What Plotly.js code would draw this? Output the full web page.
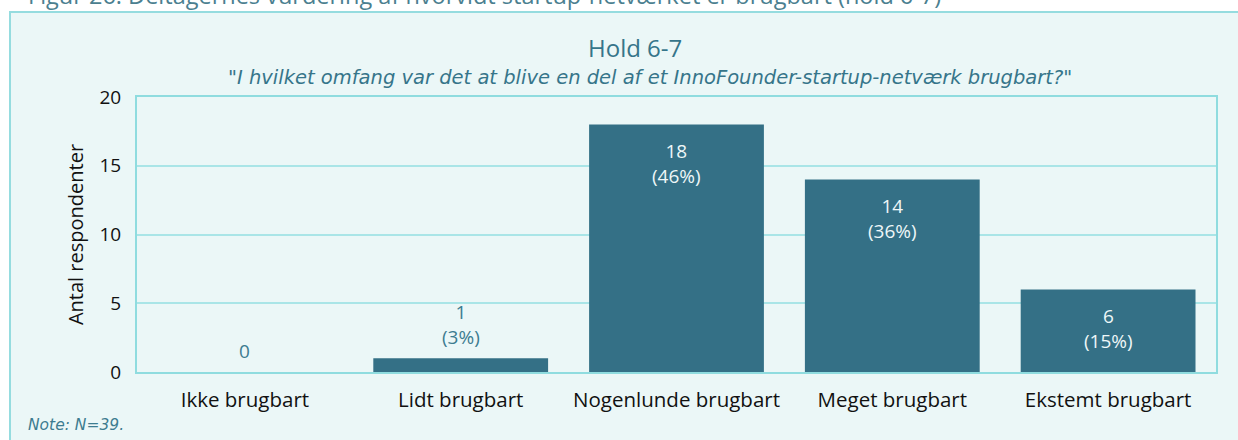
<!DOCTYPE html>
<html>
<head>
<meta charset="utf-8">
<script src="https://cdn.plot.ly/plotly-3.0.1.min.js"></script>
<style>
html,body{margin:0;padding:0;background:#ffffff;overflow:hidden;}
#chart{width:1238px;height:440px;}
</style>
</head>
<body>
<div id="chart"></div>
<script>
const categories = ["Ikke brugbart", "Lidt brugbart", "Nogenlunde brugbart", "Meget brugbart", "Ekstemt brugbart"];
const counts = [0, 1, 18, 14, 6];
const percents = ["0%", "3%", "46%", "36%", "15%"];
const yTicks = [0, 5, 10, 15, 20];
const figCaption = "Figur 26: Deltagernes vurdering af hvorvidt startup-netværket er brugbart (hold 6-7)";
const chartTitle = "Hold 6-7";
const chartSubtitle = "\"I hvilket omfang var det at blive en del af et InnoFounder-startup-netværk brugbart?\"";
const noteText = "Note: N=39.";
const yTitle = "Antal respondenter";

const FONT = "Open Sans, Noto Sans, sans-serif";
const IFONT = "DejaVu Sans, Open Sans, sans-serif";
const TEAL = "#36758a";
const BAR = "#347086";

const W = 1238, H = 440;
const M = {l: 137, r: 22, t: 97, b: 68};
const pw = W - M.l - M.r, ph = H - M.t - M.b;
const px = x => (x - M.l) / pw;
const py = y => (H - M.b - y) / ph;

const annotations = [];
categories.forEach((c, i) => {
  const v = counts[i];
  const label = i === 0 ? String(v) : v + "<br>(" + percents[i] + ")";
  const inside = v >= 3;
  annotations.push({
    x: c, y: v, xref: "x", yref: "y",
    text: label, showarrow: false,
    yanchor: inside ? "top" : "bottom",
    yshift: inside ? -11 : 6,
    font: {family: FONT, size: 19, color: inside ? "#eef7f8" : "#3d7c90"}
  });
});
annotations.push({
  x: px(635), y: py(48), xref: "paper", yref: "paper",
  text: chartTitle, showarrow: false, xanchor: "center", yanchor: "middle",
  font: {family: FONT, size: 24, color: TEAL}
});
annotations.push({
  x: px(650), y: py(77), xref: "paper", yref: "paper",
  text: chartSubtitle, showarrow: false, xanchor: "center", yanchor: "middle",
  font: {family: IFONT, size: 19.5, style: "italic", color: TEAL}
});
annotations.push({
  x: px(26), y: py(425), xref: "paper", yref: "paper",
  text: noteText, showarrow: false, xanchor: "left", yanchor: "middle",
  font: {family: IFONT, size: 15.5, style: "italic", color: "#3d7c90"}
});
annotations.push({
  x: px(26), y: py(-5), xref: "paper", yref: "paper",
  text: figCaption, showarrow: false, xanchor: "left", yanchor: "middle",
  font: {family: FONT, size: 23.5, color: "#4b7f90"}
});

const data = [{
  type: "bar",
  x: categories,
  y: counts,
  marker: {color: BAR, line: {width: 0}},
  hoverinfo: "none"
}];

const layout = {
  width: W, height: H,
  margin: M,
  paper_bgcolor: "#ffffff",
  plot_bgcolor: "rgba(0,0,0,0)",
  bargap: 0.19,
  showlegend: false,
  font: {family: FONT, size: 19, color: "#111111"},
  shapes: [{
    type: "rect", xref: "paper", yref: "paper", layer: "below",
    x0: px(10), x1: px(1300), y0: py(12), y1: py(520),
    fillcolor: "#ebf7f7", line: {color: "#95dcdf", width: 2}
  }],
  xaxis: {
    type: "category",
    showgrid: false, zeroline: false,
    showline: true, mirror: true, linecolor: "#8fdcdf", linewidth: 2,
    ticks: "", ticklabelstandoff: 8,
    tickfont: {family: FONT, size: 20.5, color: "#111111"},
    automargin: false
  },
  yaxis: {
    range: [0, 20],
    tickvals: yTicks,
    ticktext: yTicks.map(String),
    showgrid: true, gridcolor: "#a9e5e7", gridwidth: 2,
    zeroline: false,
    showline: true, mirror: true, linecolor: "#8fdcdf", linewidth: 2,
    ticks: "", ticklabelstandoff: 10,
    tickfont: {family: FONT, size: 19, color: "#111111"},
    title: {text: yTitle, font: {family: FONT, size: 20, color: "#111111"}, standoff: 10},
    automargin: false
  },
  annotations: annotations
};

Plotly.newPlot("chart", data, layout, {displayModeBar: false, staticPlot: true});
</script>
</body>
</html>
